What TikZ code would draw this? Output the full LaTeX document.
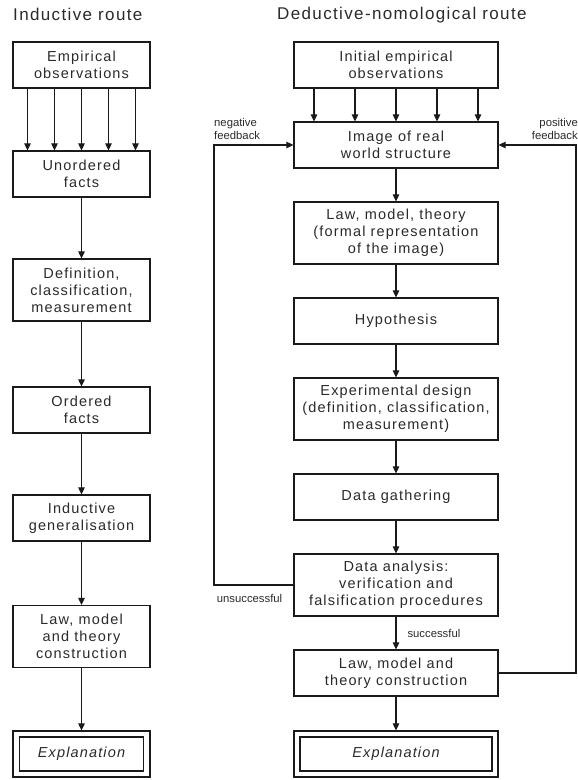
\documentclass[tikz,border=0pt]{standalone}
\usepackage{fontspec}
\setmainfont{Liberation Sans}
\newfontfamily\boxfont{Liberation Sans}[LetterSpace=8]
\newfontfamily\labfont{Liberation Sans}
\usetikzlibrary{arrows.meta,calc}
\definecolor{txt}{HTML}{2A2A2A}
\definecolor{lin}{HTML}{1A1A1A}
\tikzset{
  box/.style={draw=lin, line width=1.2pt, inner sep=0pt, align=center, text=txt,
    font=\boxfont\fontsize{14.5}{17}\selectfont, minimum height=46pt},
  lbox/.style={box, minimum width=137pt},
  rbox/.style={box, minimum width=204pt},
  tall/.style={minimum height=62pt},
  arr/.style={draw=lin, line width=1.1pt, -{Triangle[length=7pt,width=6.5pt]}},
  lab/.style={inner sep=0pt, text=txt, font=\labfont\fontsize{11.3}{13}\selectfont},
  ttl/.style={inner sep=0pt, text=txt, font=\boxfont\fontsize{17}{20}\selectfont, anchor=west}
}
\begin{document}
\begin{tikzpicture}[x=1pt,y=-1pt]
\useasboundingbox (0,0) rectangle (578,780);
% titles
\node[ttl] (t1) at (13,14) {Inductive route};
\node[ttl] (t2) at (277,15) {Deductive-nomological route};
% left column
\node[lbox] (e1) at (81.5,65) {Empirical\\observations};
\node[lbox] (uf) at (81.5,174) {Unordered\\facts};
\node[lbox,tall] (dc) at (81.5,290) {Definition,\\classification,\\measurement};
\node[lbox] (of) at (81.5,410) {Ordered\\facts};
\node[lbox] (ig) at (81.5,518) {Inductive\\generalisation};
\node[lbox,tall] (lL) at (81.5,636.5) {Law, model\\and theory\\construction};
\node[lbox] (xL) at (81.5,754) {};
\node[draw=lin, line width=1.2pt, minimum width=124pt, minimum height=34pt, inner sep=0pt, text=txt,
  font=\boxfont\fontsize{14.5}{17}\selectfont\itshape] (xLi) at (xL) {Explanation};
% right column
\node[rbox] (ie) at (396,65) {Initial empirical\\observations};
\node[rbox] (img) at (396,145) {Image of real\\world structure};
\node[rbox,tall] (lmt) at (396,233) {Law, model, theory\\(formal representation\\of the image)};
\node[rbox] (hyp) at (396,321) {Hypothesis};
\node[rbox,tall] (exd) at (396,409) {Experimental design\\(definition, classification,\\measurement)};
\node[rbox] (dg) at (396,497) {Data gathering};
\node[rbox,tall] (da) at (396,585) {Data analysis:\\verification and\\falsification procedures};
\node[rbox] (law2) at (396,673) {Law, model and\\theory construction};
\node[rbox] (xR) at (396,754) {};
\node[draw=lin, line width=1.2pt, minimum width=192pt, minimum height=34pt, inner sep=0pt, text=txt,
  font=\boxfont\fontsize{14.5}{17}\selectfont\itshape] (xRi) at (xR) {Explanation};
% left arrows
\foreach \dx in {-54,-27,0,27,54}
  \draw[arr] ([xshift=\dx pt]e1.south) -- ([xshift=\dx pt]uf.north);
\draw[arr] (uf) -- (dc);
\draw[arr] (dc) -- (of);
\draw[arr] (of) -- (ig);
\draw[arr] (ig) -- (lL);
\draw[arr] (lL) -- (xL);
% right arrows
\foreach \dx in {-82,-41,0,41,82}
  \draw[arr] ([xshift=\dx pt]ie.south) -- ([xshift=\dx pt]img.north);
\draw[arr] (img) -- (lmt);
\draw[arr] (lmt) -- (hyp);
\draw[arr] (hyp) -- (exd);
\draw[arr] (exd) -- (dg);
\draw[arr] (dg) -- (da);
\draw[arr] (da) -- (law2) node[lab, midway, anchor=west, xshift=11pt] (succ) {successful};
\draw[arr] (law2) -- (xR);
% feedback loops
\coordinate (nl) at (214,145);
\coordinate (pr) at (576,145);
\draw[arr] (da.west) -| (nl) -- (img.west);
\draw[arr] (law2.east) -| (pr) -- (img.east);
\node[lab, align=left, anchor=south west] (neg) at ([yshift=5pt]nl) {negative\\feedback};
\node[lab, align=right, anchor=south east] (pos) at ([xshift=2pt,yshift=5pt]pr) {positive\\feedback};
\node[lab, anchor=north east] (uns) at ([xshift=-11pt,yshift=-9pt]da.west) {unsuccessful};
\end{tikzpicture}
\end{document}
